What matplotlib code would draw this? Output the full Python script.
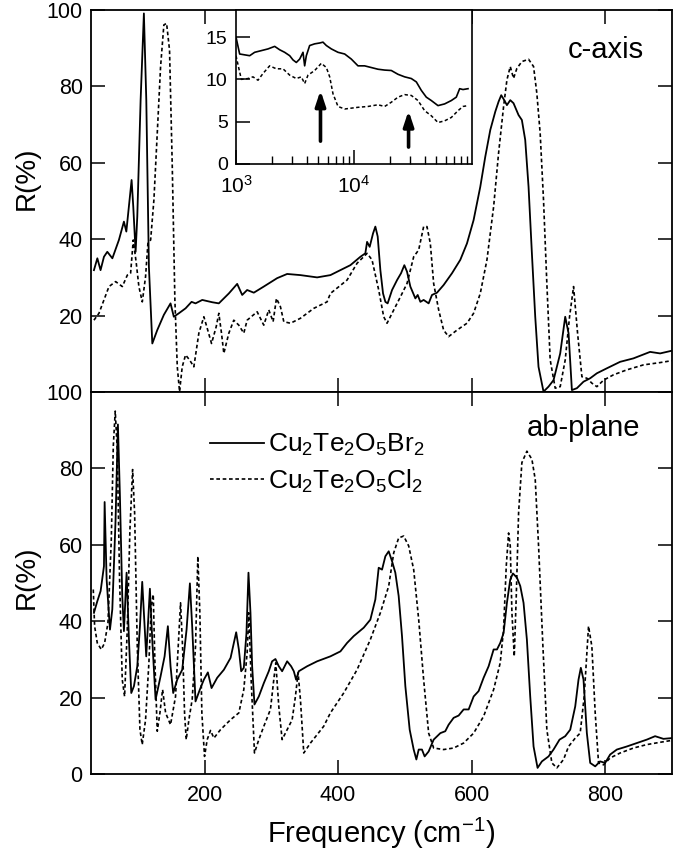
import matplotlib
matplotlib.use("Agg")
import matplotlib.pyplot as plt

plt.rcParams['font.family'] = ['Liberation Sans', 'DejaVu Sans']
plt.rcParams['mathtext.fontset'] = 'custom'
plt.rcParams['mathtext.rm'] = 'Liberation Sans'
plt.rcParams['mathtext.it'] = 'Liberation Sans:italic'
plt.rcParams['mathtext.default'] = 'regular'

# ---------------- data: c-axis (top panel) ----------------
c_br_freq = [34.4, 39.5, 44.3, 49.4, 54.4, 62, 71.8, 79.3, 82.9, 86.7, 90.8, 93.3, 96.8, 99.3,
             104.3, 109.2, 112.8, 116.7, 121.8, 129.2, 139.1, 149.1, 154, 161.5, 171.6, 180.6,
             186.5, 196.6, 211.5, 221.4, 236.4, 248.9, 256.4, 263.8, 273.8, 288.7, 308.7, 323.7,
             343.6, 368.6, 388.5, 403.4, 418.4, 433.4, 440.8, 443.4, 447.3, 452.3, 455.8, 459.3,
             463.3, 467.3, 470.8, 474.2, 480.8, 488.3, 494.3, 499.2, 503.2, 508.2, 515.7, 519.2,
             523.2, 528.1, 535.6, 540.6, 548.1, 558, 570.6, 583, 593, 602.9, 612.9, 620.4, 627.9,
             635.4, 640.3, 644.3, 648.8, 652.8, 657.8, 662.7, 670.2, 675.2, 680.2, 685.2, 690.2,
             695.2, 700.1, 707.6, 715.1, 722.6, 732.6, 740.1, 745.1, 750.1, 757.6, 767.5, 777.5,
             787.5, 802.4, 822.3, 842.2, 867.2, 882.2, 899.6]
c_br_R = [31.9, 35.0, 31.9, 35.4, 36.7, 35.0, 39.8, 44.6, 42.0, 48.5, 55.5, 48.5, 36.7, 45.9,
          76.4, 99.1, 76.4, 32.8, 12.7, 16.2, 20.2, 23.2, 19.7, 20.6, 21.9, 23.6,
          23.2, 24.1, 23.5, 23.2, 25.8, 28.3, 25.4, 26.7, 26.0, 27.6, 29.8, 30.9,
          30.6, 30.0, 30.6, 31.9, 33.2, 35.4, 36.3, 39.3, 38.0, 41.5, 43.3, 40.7,
          31.9, 25.8, 23.6, 23.2, 26.7, 29.3, 31.1, 33.2, 31.5, 27.6, 24.5, 25.4,
          23.6, 24.1, 23.2, 25.4, 26.0, 28.0, 31.1, 34.6, 38.9, 45.0, 53.7, 61.6, 68.6,
          73.4, 76.0, 77.7, 76.4, 75.1, 76.4, 75.6, 72.5, 71.2, 66.0, 53.7, 36.3,
          19.7, 6.6, 0.1, 1.4, 3.1, 10.1, 19.7, 15.4, 0.5, 1.0, 2.7, 3.6,
          4.9, 6.2, 7.9, 8.8, 10.5, 10.1, 10.8]

c_cl_freq = [34.4, 41.9, 49.4, 56.9, 66.9, 76.9, 84.4, 89.3, 93.3, 97.8, 101.7, 106.8, 111.7,
             115.2, 119.3, 124.2, 129.2, 134.2, 139.1, 143.2, 147.6, 151.7, 155.6, 159.2, 162.6,
             166.6, 171.6, 177.6, 184, 191.5, 199, 204, 210.5, 217.5, 221.4, 225.4, 228.9, 236.4,
             243.8, 251.3, 258.8, 263.8, 278.8, 288.7, 296.2, 302.7, 307.7, 313.7, 318.7, 328.7,
             343.6, 363.6, 383.5, 388.5, 413.4, 428.4, 443.4, 450.8, 460.8, 468.3, 473.3, 480.8,
             493.3, 503.2, 513.2, 520.7, 528.1, 533.1, 538.1, 543.1, 550.6, 558, 565.5, 578, 593,
             602.9, 612.9, 622.9, 632.9, 640.3, 647.8, 652.8, 657.8, 662.7, 667.7, 675.2, 685.2,
             692.7, 697.6, 702.6, 707.6, 712.6, 717.6, 725.1, 732.6, 740.1, 746.6, 752.6, 758.6,
             765.1, 772.6, 780.1, 787.5, 797.5, 812.4, 832.4, 857.3, 882.2, 899.6]
c_cl_R = [18.8, 20.6, 24.1, 27.6, 28.9, 27.6, 30.6, 31.1, 39.8, 33.7, 27.6, 23.6, 30.2,
          38.9, 39.8, 50.3, 67.7, 85.2, 96.1, 96.5, 89.5, 59.0, 24.1, 6.6, 0.1,
          6.6, 9.7, 8.4, 6.6, 15.4, 19.7, 16.7, 12.7, 17.1, 20.6, 15.4, 10.1, 15.4,
          18.8, 17.5, 15.4, 18.8, 21.0, 17.5, 21.5, 18.4, 24.5, 22.3, 18.4, 18.0,
          19.3, 21.9, 23.6, 25.8, 29.3, 33.7, 36.3, 34.6, 26.7, 19.7, 18.0, 20.6,
          24.9, 28.4, 35.4, 37.2, 43.3, 43.3, 38.9, 28.4, 21.5, 16.2, 14.5, 16.2, 18.0,
          20.6, 25.8, 34.6, 48.5, 62.5, 74.7, 81.7, 85.2, 82.1, 84.7, 86.5, 87.1,
          85.2, 78.2, 67.7, 50.3, 28.4, 8.4, 1.0, 1.4, 8.4, 19.7, 27.6, 15.4,
          4.0, 3.6, 2.3, 1.4, 3.1, 4.5, 5.8, 7.1, 7.7, 8.2]

# ---------------- data: ab-plane (bottom panel) ----------------
ab_br_freq = [34.4, 39.4, 44.4, 49.4, 50.4, 53.4, 58.4, 61.9, 66.8, 70.3, 73.3, 76.8, 79.3, 83.3,
              86.8, 90.3, 94.3, 99.3, 103.3, 106.7, 112.7, 118.2, 121.7, 126.7, 134.2, 140.2,
              145.1, 149.1, 153.1, 159.1, 166.6, 173.1, 178.1, 181.5, 186.5, 193, 199, 205,
              210.5, 219, 229, 239, 243.9, 247.4, 251.4, 254.9, 258.8, 262.8, 265.8, 268.8,
              271.3, 274.8, 281.3, 288.8, 296.2, 301.2, 306.2, 311.2, 316.2, 323.7, 329.7,
              333.7, 337.1, 341.1, 353.6, 368.6, 388.5, 403.5, 413.4, 423.4, 438.4, 448.3,
              455.8, 460.8, 465.8, 470.8, 475.8, 480.8, 485.7, 490.7, 495.7, 500.7, 507.2,
              513.2, 517.2, 520.7, 525.6, 529.6, 535.6, 543.1, 553.1, 560.5, 565.5, 573, 580.5,
              588, 595.5, 603, 610.4, 617.9, 625.4, 632.9, 637.9, 642.8, 647.8, 652.8, 657.8,
              661.8, 667.8, 672.8, 677.7, 682.7, 687.7, 692.7, 698.7, 705.2, 715.1, 722.6,
              731.6, 740.1, 747.6, 755.1, 760, 763.5, 767.5, 772.5, 777.5, 785, 792.4, 799.9,
              807.4, 817.4, 832.3, 847.3, 862.3, 874.7, 887.2, 899.7]
ab_br_R = [42.2, 45.2, 47.9, 54.4, 71.2, 50.9, 37.8, 43.1, 66.6, 91.5, 72.8, 46.6, 37.4, 52.7,
           35.2, 21.2, 23.0, 28.2, 38.7, 50.3, 30.8, 48.5, 35.2, 19.5, 25.6, 30.8,
           38.7, 28.2, 21.2, 24.7, 27.3, 37.8, 49.9, 38.7, 19.0, 22.1, 24.7, 26.6,
           22.5, 25.2, 27.3, 30.4, 34.3, 37.1, 32.6, 26.9, 27.8, 36.9, 52.7, 42.2,
           28.2, 18.2, 20.3, 23.8, 26.9, 29.5, 30.1, 28.2, 26.9, 29.5, 28.2,
           26.9, 24.7, 26.9, 28.2, 29.5, 30.8, 32.1, 34.3, 36.1, 38.3, 40.4,
           45.7, 54.0, 53.5, 57.0, 58.3, 55.7, 52.7, 46.6, 36.1, 23.0, 11.6,
           6.4, 3.8, 6.4, 6.4, 4.6, 5.9, 9.0, 10.7, 11.2, 12.9, 14.7, 15.3,
           16.9, 16.9, 20.3, 21.7, 25.2, 28.2, 32.6, 32.6, 34.3, 36.9, 44.8, 50.9,
           52.5, 51.4, 49.2, 44.8, 35.2, 20.3, 7.2, 1.6, 3.3, 4.6, 6.4,
           9.0, 9.9, 11.6, 17.7, 24.7, 27.8, 24.7, 10.7, 2.9, 2.0, 3.3, 2.9,
           5.1, 6.4, 7.2, 8.1, 9.0, 9.9, 9.2, 9.4]

ab_cl_freq = [33.4, 35.4, 39.4, 45.4, 50.4, 55.4, 60.4, 63.4, 66.3, 69.3, 72.8, 76.8, 80.3, 84.3,
              88.3, 92.3, 95.3, 99.3, 103.3, 106.7, 111.7, 116.7, 120.2, 123.2, 125.7, 129.2,
              133.2, 137.2, 141.7, 149.1, 156.6, 160.6, 164.1, 167.1, 170.1, 172.6, 176.6,
              181.5, 186.5, 190, 193, 196, 200, 204, 209, 214, 223.9, 238.9, 251.4, 258.8,
              263.8, 266.3, 269.8, 274.8, 281.3, 288.8, 298.7, 303.7, 306.7, 311.2, 316.2,
              323.7, 331.2, 336.1, 340.1, 343.6, 348.6, 358.6, 378.5, 388.5, 408.4, 428.4,
              448.3, 463.3, 475.8, 483.3, 490.7, 498.2, 505.7, 513.2, 520.7, 528.1, 535.6,
              543.1, 558, 573, 588, 603, 617.9, 632.9, 642.8, 647.8, 651.8, 655.3, 657.8,
              660.3, 663.8, 666.8, 670.3, 675.2, 682.7, 690.2, 695.2, 700.2, 706.7, 712.6,
              720.1, 727.6, 737.6, 745.1, 755.1, 762.5, 768.5, 775, 780, 785, 790, 797.5,
              807.4, 822.4, 842.3, 862.3, 882.2, 899.7]
ab_cl_R = [48.3, 38.7, 34.3, 32.6, 34.3, 39.6, 61.4, 85.9, 95.0, 85.0, 50.9, 24.7, 20.3, 37.8,
           64.0, 79.7, 68.4, 33.4, 11.6, 7.7, 14.2, 29.1, 43.9, 47.0, 29.1, 11.2,
           16.0, 22.1, 16.0, 12.9, 20.3, 33.4, 44.8, 33.4, 16.0, 9.0, 14.2,
           19.5, 33.4, 57.0, 42.2, 16.0, 4.6, 9.0, 11.4, 9.4, 11.6, 14.2, 16.0, 22.1,
           31.7, 42.2, 24.7, 5.5, 9.0, 12.5, 16.9, 24.7, 29.1, 17.7, 9.0,
           11.6, 14.2, 20.3, 26.5, 19.5, 5.5, 8.1, 12.5, 16.0, 21.2, 27.3,
           35.2, 42.2, 49.2, 57.9, 61.8, 62.3, 59.7, 53.5, 40.4, 24.7, 10.7,
           6.8, 6.4, 6.8, 8.1, 10.7, 15.1, 22.1, 29.1, 37.8, 54.4, 63.1, 59.7,
           42.2, 30.8, 46.6, 68.4, 81.5, 84.5, 82.4, 77.1, 59.7, 33.4, 11.6,
           2.9, 1.6, 3.8, 7.2, 9.4, 10.7, 20.3, 38.7, 33.4, 16.0, 2.9, 2.4,
           4.2, 5.5, 6.8, 7.7, 8.3, 8.8]

# ---------------- data: inset (c-axis, high frequency, log scale) ----------------
in_br_freq = [1000, 1074, 1184, 1306, 1439, 1640, 1867, 2127, 2345, 2584, 2851, 3041, 3245, 3465,
              3697, 3818, 3945, 4209, 4642, 5117, 5458, 5831, 6427, 7318, 8337, 9488, 10810,
              12300, 14020, 15970, 18190, 20710, 23600, 26860, 30600, 33750, 37200, 41000,
              45200, 51500, 58600, 66800, 73600, 78600, 83900, 92500]
in_br_R = [15.0, 13.0, 12.9, 12.8, 13.2, 13.4, 13.6, 13.9, 13.5, 13.2, 12.8, 12.3, 12.0, 12.4,
           13.2, 11.6, 12.8, 14.0, 14.2, 14.3, 14.4, 14.0, 13.6, 13.2, 13.0, 12.4, 11.6,
           11.6, 11.4, 11.2, 11.1, 11.05, 10.6, 10.3, 10.1, 9.7, 8.7, 7.9,
           7.5, 6.9, 7.1, 7.5, 7.9, 8.9, 8.8, 8.9]

in_cl_freq = [1000, 1053, 1110, 1264, 1393, 1536, 1694, 1928, 2197, 2502, 2851, 3245, 3578, 3818,
              4074, 4642, 5286, 5831, 6223, 6637, 7318, 8337, 9488, 10810, 13140, 15970, 18190,
              20710, 23600, 26860, 30600, 34860, 39700, 45200, 51500, 58600, 66800, 76100,
              83900, 92500]
in_cl_R = [12.8, 11.4, 10.0, 10.1, 10.3, 9.9, 10.7, 11.6, 11.25, 11.25, 10.5, 10.1, 10.3, 9.5,
           10.5, 11.05, 11.9, 11.4, 10.3, 8.3, 6.8, 6.5, 6.6, 6.7, 6.8, 7.0, 6.8,
           7.3, 7.9, 8.2, 8.1, 7.5, 6.3, 5.7, 4.9, 5.1, 5.5, 6.3,
           6.8, 6.9]

arrow_freq = [5200, 29000]
arrow_tail = [2.7, 2.0]
arrow_head = [8.7, 6.3]

x_ticks = [200, 400, 600, 800]
y_ticks = [0, 20, 40, 60, 80, 100]
legend_labels = [r'Cu$_2$Te$_2$O$_5$Br$_2$', r'Cu$_2$Te$_2$O$_5$Cl$_2$']

# ---------------- figure ----------------
W, H = 686, 850
fig = plt.figure(figsize=(W / 100, H / 100), dpi=100)

def frac(l, t, r, b):
    return [l / W, 1 - b / H, (r - l) / W, (b - t) / H]

ax1 = fig.add_axes(frac(91, 10, 672, 392))
ax2 = fig.add_axes(frac(91, 392, 672, 774))

solid = dict(color='black', lw=1.3, ls='-')
dashed = dict(color='black', lw=1.2, ls=(0, (2.2, 1.6)))

for ax in (ax1, ax2):
    ax.set_xlim(30, 900)
    ax.set_ylim(0, 100)
    ax.set_xticks(x_ticks)
    ax.set_yticks(y_ticks)
    ax.tick_params(direction='in', length=10, width=1.1, top=True, right=True,
                   labelsize=15.5, pad=6)
    for s in ax.spines.values():
        s.set_linewidth(1.3)

ax1.plot(c_br_freq, c_br_R, **solid)
ax1.plot(c_cl_freq, c_cl_R, **dashed)
ax1.set_xticklabels([])
ax1.set_yticklabels([''] + [str(v) for v in y_ticks[1:]])

ax2.plot(ab_br_freq, ab_br_R, label=legend_labels[0], **solid)
ax2.plot(ab_cl_freq, ab_cl_R, label=legend_labels[1], **dashed)
ax2.set_yticklabels([str(v) for v in y_ticks])
ax2.tick_params(axis='x', pad=8)

leg = ax2.legend(loc='upper left', bbox_to_anchor=(210 / W, 1 - 432 / H),
                 bbox_transform=fig.transFigure, frameon=False, fontsize=19,
                 handlelength=2.05, handletextpad=0.15, labelspacing=0.35,
                 borderpad=0, borderaxespad=0)

fig.text(606 / W, 1 - 58 / H, 'c-axis', ha='center', va='baseline', fontsize=21)
fig.text(583 / W, 1 - 436 / H, 'ab-plane', ha='center', va='baseline', fontsize=21)
fig.text(27 / W, 1 - 178 / H, 'R(%)', rotation=90, ha='center', va='center', fontsize=20)
fig.text(27 / W, 1 - 577 / H, 'R(%)', rotation=90, ha='center', va='center', fontsize=20)
fig.text(381 / W, 1 - 843 / H, r'Frequency (cm$^{-1}$)', ha='center', va='baseline', fontsize=21)

# inset
axin = fig.add_axes(frac(236, 10, 472, 164))
axin.set_facecolor('white')
axin.set_xscale('log')
axin.set_xlim(1e3, 1e5)
axin.set_ylim(0, 18.2)
axin.set_yticks([0, 5, 10, 15])
axin.set_xticks([1e3, 1e4])
axin.set_xticklabels([r'10$^3$', r'10$^4$'])
axin.tick_params(which='major', direction='in', length=10, width=1.1, top=False,
                 right=False, labelsize=14, pad=6)
axin.tick_params(axis='x', which='major', pad=8, labelsize=15)
axin.tick_params(which='minor', direction='in', length=5.5, width=1.0, top=False, right=False)
for s in axin.spines.values():
    s.set_linewidth(1.2)
axin.plot(in_br_freq, in_br_R, color='black', lw=1.2)
axin.plot(in_cl_freq, in_cl_R, color='black', lw=1.1, ls=(0, (2.2, 1.6)))
for f, t, h in zip(arrow_freq, arrow_tail, arrow_head):
    axin.annotate('', xy=(f, h), xytext=(f, t),
                  arrowprops=dict(arrowstyle='-|>,head_width=0.3,head_length=0.9',
                                  lw=2.6, color='black', shrinkA=0, shrinkB=0))

fig.savefig('out.png', dpi=100)
